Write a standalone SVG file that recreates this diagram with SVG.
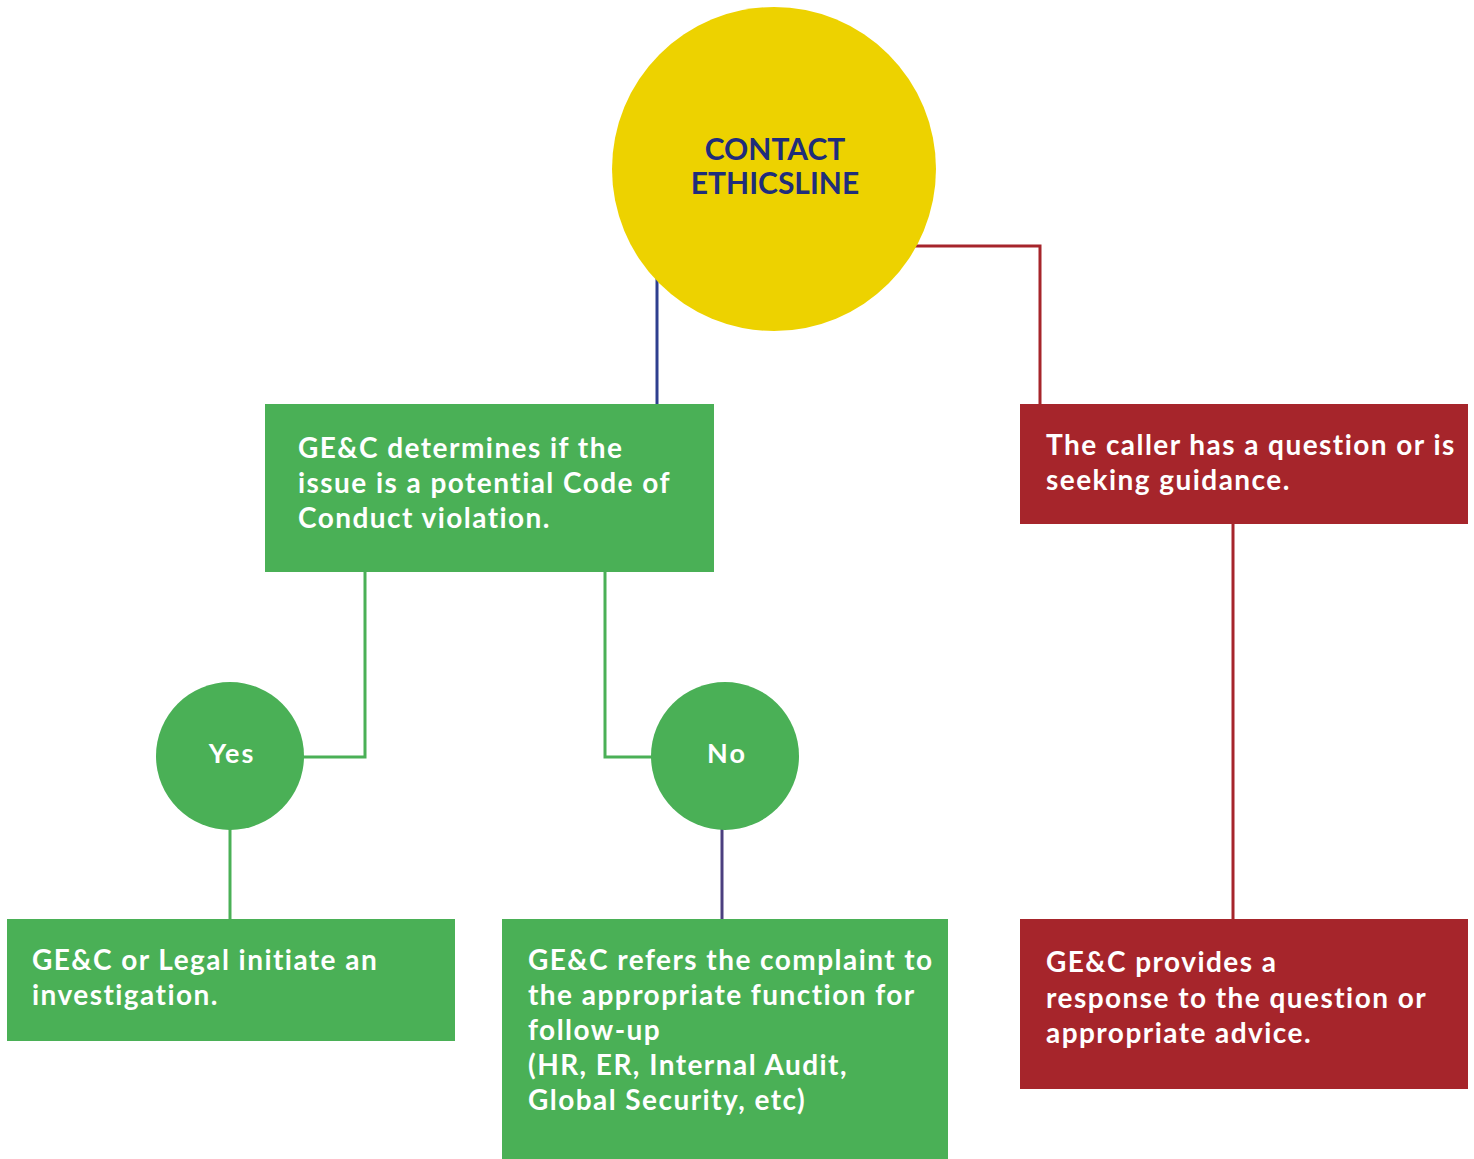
<svg xmlns="http://www.w3.org/2000/svg" width="1474" height="1159" viewBox="0 0 1474 1159">
<style>
.t{font-family:Lato,"Noto Sans","Liberation Sans",sans-serif;font-weight:700;font-size:28px;fill:#ffffff;letter-spacing:1.45px;font-variant-ligatures:none}
.c{font-family:Lato,"Noto Sans","Liberation Sans",sans-serif;font-weight:700;font-size:30px;fill:#1F2D7B;text-anchor:middle}
.yn{font-family:Lato,"Noto Sans","Liberation Sans",sans-serif;font-weight:700;font-size:27px;fill:#ffffff;text-anchor:middle;letter-spacing:2px}
.g{fill:#4AB056}
.r{fill:#A6252B}
.lg{stroke:#4AB056;stroke-width:3;fill:none}
.lr{stroke:#A6252B;stroke-width:3;fill:none}
</style>
<rect width="1474" height="1159" fill="#ffffff"/>
<g id="connectors">
<line x1="657" y1="250" x2="657" y2="405" stroke="#2E3F8F" stroke-width="3"/>
<polyline class="lr" points="900,246 1040,246 1040,405"/>
<polyline class="lg" points="365,571 365,757 300,757"/>
<polyline class="lg" points="605,571 605,757 655,757"/>
<line class="lg" x1="230" y1="826" x2="230" y2="920"/>
<line x1="722" y1="826" x2="722" y2="920" stroke="#4B3F7F" stroke-width="3"/>
<line class="lr" x1="1233" y1="523" x2="1233" y2="920"/>
</g>
<g id="contact">
<circle cx="774" cy="169" r="162" fill="#EDD200"/>
<text class="c" x="775" y="160">CONTACT</text>
<text class="c" x="775" y="194">ETHICSLINE</text>
</g>
<g id="determine">
<rect class="g" x="265" y="404" width="449" height="168"/>
<text class="t" x="298" y="458">GE&amp;C determines if the</text>
<text class="t" x="298" y="493">issue is a potential Code of</text>
<text class="t" x="298" y="528">Conduct violation.</text>
</g>
<g id="question">
<rect class="r" x="1020" y="404" width="448" height="120"/>
<text class="t" x="1046" y="455">The caller has a question or is</text>
<text class="t" x="1046" y="490">seeking guidance.</text>
</g>
<g id="yes">
<circle class="g" cx="230" cy="756" r="74"/>
<text class="yn" x="232" y="763">Yes</text>
</g>
<g id="no">
<circle class="g" cx="725" cy="756" r="74"/>
<text class="yn" x="727" y="763">No</text>
</g>
<g id="investigate">
<rect class="g" x="7" y="919" width="448" height="122"/>
<text class="t" x="32" y="970">GE&amp;C or Legal initiate an</text>
<text class="t" x="32" y="1005">investigation.</text>
</g>
<g id="refer">
<rect class="g" x="502" y="919" width="446" height="240"/>
<text class="t" x="528" y="970">GE&amp;C refers the complaint to</text>
<text class="t" x="528" y="1005">the appropriate function for</text>
<text class="t" x="528" y="1040">follow-up</text>
<text class="t" x="528" y="1075">(HR, ER, Internal Audit,</text>
<text class="t" x="528" y="1110">Global Security, etc)</text>
</g>
<g id="response">
<rect class="r" x="1020" y="919" width="448" height="170"/>
<text class="t" x="1046" y="972">GE&amp;C provides a</text>
<text class="t" x="1046" y="1008">response to the question or</text>
<text class="t" x="1046" y="1043">appropriate advice.</text>
</g>
</svg>
